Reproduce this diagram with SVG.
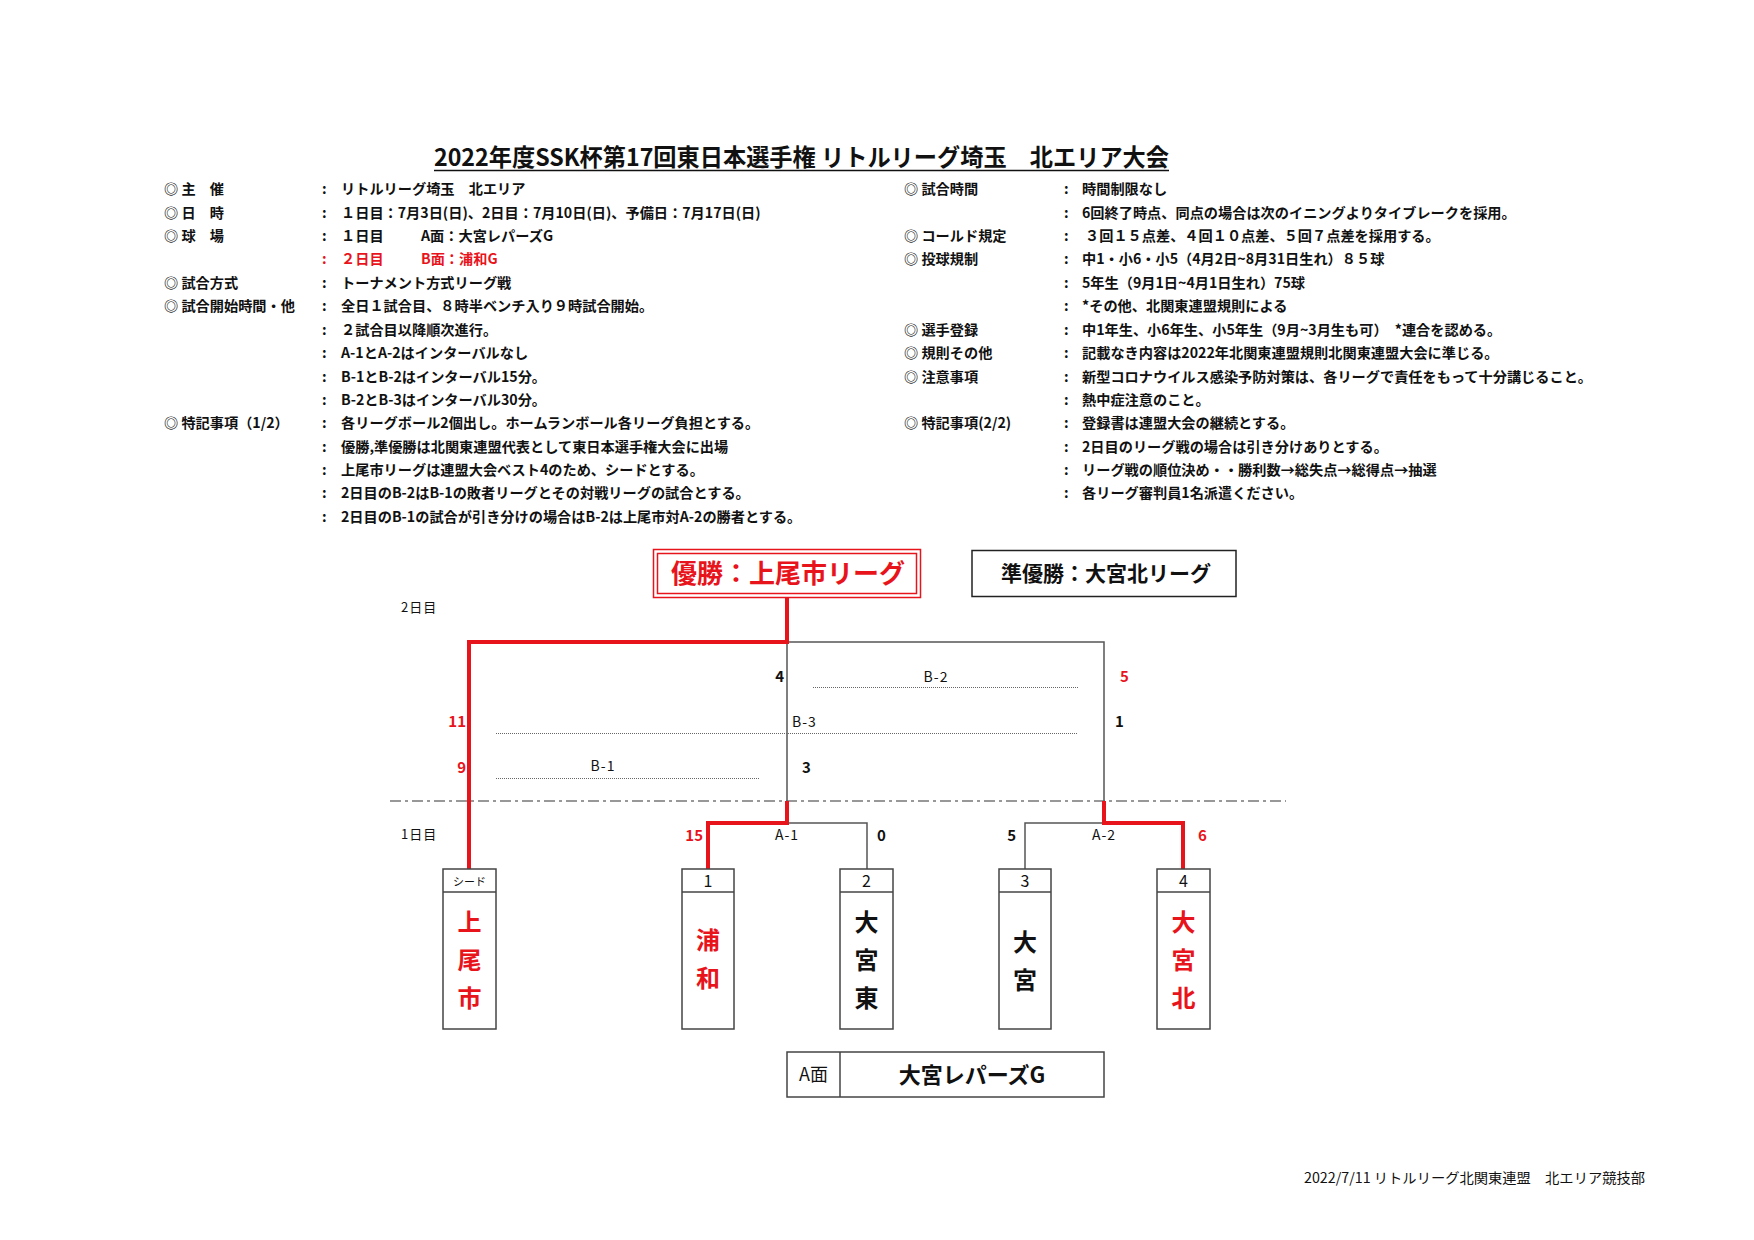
<svg xmlns="http://www.w3.org/2000/svg" width="1754" height="1240" viewBox="0 0 1754 1240">
<style>
text{font-family:"Noto Sans CJK JP","Noto Sans",sans-serif;fill:#111}
.b{font-size:14.2px;font-weight:700}
.red{fill:#e8141c}
.lab{font-size:14px;font-weight:400;letter-spacing:1px}
.sc{font-size:15px;font-weight:700}
.day{font-size:13px;font-weight:400;letter-spacing:1px}
.hd{font-size:16px;font-weight:400}
.tm{font-size:24px;font-weight:700;text-anchor:middle}
.ln{fill:none;stroke:#555;stroke-width:1.5}
.rl{fill:none;stroke:#e8141c;stroke-width:4}
.dot{fill:none;stroke:#666;stroke-width:1;stroke-dasharray:1 1}
.box{fill:#fff;stroke:#444;stroke-width:1.5}
</style>
<rect width="1754" height="1240" fill="#fff"/>
<g id="title">
<text x="434" y="166" font-size="24" font-weight="700" textLength="735" lengthAdjust="spacingAndGlyphs">2022年度SSK杯第17回東日本選手権 リトルリーグ埼玉　北エリア大会</text>
<line x1="434" y1="170.5" x2="1169" y2="170.5" stroke="#111" stroke-width="1.5"/>
</g>
<g id="info-left" class="b">
<text x="164" y="194">◎ 主　催</text><text x="322" y="194">:</text><text x="341" y="194">リトルリーグ埼玉　北エリア</text>
<text x="164" y="218">◎ 日　時</text><text x="322" y="218">:</text><text x="341" y="218">１日目：7月3日(日)、2日目：7月10日(日)、予備日：7月17日(日)</text>
<text x="164" y="241">◎ 球　場</text><text x="322" y="241">:</text><text x="341" y="241">１日目</text><text x="421" y="241">A面：大宮レパーズG</text>
<text x="322" y="264" class="red">:</text><text x="341" y="264" class="red">２日目</text><text x="421" y="264" class="red">B面：浦和G</text>
<text x="164" y="288">◎ 試合方式</text><text x="322" y="288">:</text><text x="341" y="288">トーナメント方式リーグ戦</text>
<text x="164" y="311">◎ 試合開始時間・他</text><text x="322" y="311">:</text><text x="341" y="311">全日１試合目、８時半ベンチ入り９時試合開始。</text>
<text x="322" y="335">:</text><text x="341" y="335">２試合目以降順次進行。</text>
<text x="322" y="358">:</text><text x="341" y="358">A-1とA-2はインターバルなし</text>
<text x="322" y="382">:</text><text x="341" y="382">B-1とB-2はインターバル15分。</text>
<text x="322" y="405">:</text><text x="341" y="405">B-2とB-3はインターバル30分。</text>
<text x="164" y="428">◎ 特記事項（1/2）</text><text x="322" y="428">:</text><text x="341" y="428">各リーグボール2個出し。ホームランボール各リーグ負担とする。</text>
<text x="322" y="452">:</text><text x="341" y="452">優勝,準優勝は北関東連盟代表として東日本選手権大会に出場</text>
<text x="322" y="475">:</text><text x="341" y="475">上尾市リーグは連盟大会ベスト4のため、シードとする。</text>
<text x="322" y="498">:</text><text x="341" y="498">2日目のB-2はB-1の敗者リーグとその対戦リーグの試合とする。</text>
<text x="322" y="522">:</text><text x="341" y="522">2日目のB-1の試合が引き分けの場合はB-2は上尾市対A-2の勝者とする。</text>
</g>
<g id="info-right" class="b">
<text x="904" y="194">◎ 試合時間</text><text x="1064" y="194">:</text><text x="1082" y="194">時間制限なし</text>
<text x="1064" y="218">:</text><text x="1082" y="218">6回終了時点、同点の場合は次のイニングよりタイブレークを採用。</text>
<text x="904" y="241">◎ コールド規定</text><text x="1064" y="241">:</text><text x="1085" y="241">３回１５点差、４回１０点差、５回７点差を採用する。</text>
<text x="904" y="264">◎ 投球規制</text><text x="1064" y="264">:</text><text x="1082" y="264">中1・小6・小5（4月2日~8月31日生れ）８５球</text>
<text x="1064" y="288">:</text><text x="1082" y="288">5年生（9月1日~4月1日生れ）75球</text>
<text x="1064" y="311">:</text><text x="1082" y="311">*その他、北関東連盟規則による</text>
<text x="904" y="335">◎ 選手登録</text><text x="1064" y="335">:</text><text x="1082" y="335">中1年生、小6年生、小5年生（9月~3月生も可）　*連合を認める。</text>
<text x="904" y="358">◎ 規則その他</text><text x="1064" y="358">:</text><text x="1082" y="358">記載なき内容は2022年北関東連盟規則北関東連盟大会に準じる。</text>
<text x="904" y="382">◎ 注意事項</text><text x="1064" y="382">:</text><text x="1082" y="382">新型コロナウイルス感染予防対策は、各リーグで責任をもって十分講じること。</text>
<text x="1064" y="405">:</text><text x="1082" y="405">熱中症注意のこと。</text>
<text x="904" y="428">◎ 特記事項(2/2)</text><text x="1064" y="428">:</text><text x="1082" y="428">登録書は連盟大会の継続とする。</text>
<text x="1064" y="452">:</text><text x="1082" y="452">2日目のリーグ戦の場合は引き分けありとする。</text>
<text x="1064" y="475">:</text><text x="1082" y="475">リーグ戦の順位決め・・勝利数→総失点→総得点→抽選</text>
<text x="1064" y="498">:</text><text x="1082" y="498">各リーグ審判員1名派遣ください。</text>
</g>
<g id="connectors">
<line x1="390" y1="801" x2="1286" y2="801" stroke="#333" stroke-width="1.2" stroke-dasharray="11 4 3 4"/>
<path class="ln" d="M787 642 H1104 V801 M787 642 V801 M787 823 H867 V869 M1104 823 H1025 V869"/>
<path class="dot" d="M813 687.5 H1078 M496 733.5 H1078 M496 778.5 H760"/>
<path class="rl" d="M787 598 V642 H469 V869"/>
<path class="rl" d="M787 801 V823 H708 V869"/>
<path class="rl" d="M1104 801 V823 H1183 V869"/>
</g>
<g id="bracket-labels">
<text x="401" y="612" class="day">2日目</text>
<text x="401" y="839" class="day">1日目</text>
<text x="936" y="682" class="lab" text-anchor="middle">B-2</text>
<text x="792" y="727" class="lab">B-3</text>
<text x="603" y="771" class="lab" text-anchor="middle">B-1</text>
<text x="787" y="840" class="lab" text-anchor="middle">A-1</text>
<text x="1104" y="840" class="lab" text-anchor="middle">A-2</text>
<text x="784" y="682" class="sc" text-anchor="end">4</text>
<text x="1120" y="682" class="sc red">5</text>
<text x="466" y="727" class="sc red" text-anchor="end">11</text>
<text x="1115" y="727" class="sc">1</text>
<text x="466" y="773" class="sc red" text-anchor="end">9</text>
<text x="802" y="773" class="sc">3</text>
<text x="703" y="841" class="sc red" text-anchor="end">15</text>
<text x="877" y="841" class="sc">0</text>
<text x="1016" y="841" class="sc" text-anchor="end">5</text>
<text x="1198" y="841" class="sc red">6</text>
</g>
<g id="winner">
<rect x="653.5" y="549.5" width="267" height="48" fill="#fff" stroke="#e8141c" stroke-width="1.5"/>
<rect x="657.5" y="553.5" width="259" height="40" fill="none" stroke="#e8141c" stroke-width="1.5"/>
<text x="788" y="583" font-size="26" font-weight="700" text-anchor="middle" class="red">優勝：上尾市リーグ</text>
</g>
<g id="runner-up">
<rect x="972" y="550.5" width="264" height="46" fill="#fff" stroke="#222" stroke-width="1.5"/>
<text x="1106" y="581" font-size="21" font-weight="700" text-anchor="middle">準優勝：大宮北リーグ</text>
</g>
<g id="team-seed">
<rect class="box" x="443" y="869" width="53" height="160"/><line x1="443" y1="892" x2="496" y2="892" stroke="#444" stroke-width="1.5"/>
<text x="469.5" y="886" font-size="11" text-anchor="middle">シード</text>
<text class="tm red" x="469.5" y="931">上</text><text class="tm red" x="469.5" y="969">尾</text><text class="tm red" x="469.5" y="1007">市</text>
</g>
<g id="team-1">
<rect class="box" x="682" y="869" width="52" height="160"/><line x1="682" y1="892" x2="734" y2="892" stroke="#444" stroke-width="1.5"/>
<text class="hd" x="708" y="887" text-anchor="middle">1</text>
<text class="tm red" x="708" y="949">浦</text><text class="tm red" x="708" y="987">和</text>
</g>
<g id="team-2">
<rect class="box" x="840" y="869" width="53" height="160"/><line x1="840" y1="892" x2="893" y2="892" stroke="#444" stroke-width="1.5"/>
<text class="hd" x="866.5" y="887" text-anchor="middle">2</text>
<text class="tm" x="866.5" y="931">大</text><text class="tm" x="866.5" y="969">宮</text><text class="tm" x="866.5" y="1007">東</text>
</g>
<g id="team-3">
<rect class="box" x="999" y="869" width="52" height="160"/><line x1="999" y1="892" x2="1051" y2="892" stroke="#444" stroke-width="1.5"/>
<text class="hd" x="1025" y="887" text-anchor="middle">3</text>
<text class="tm" x="1025" y="951">大</text><text class="tm" x="1025" y="989">宮</text>
</g>
<g id="team-4">
<rect class="box" x="1157" y="869" width="53" height="160"/><line x1="1157" y1="892" x2="1210" y2="892" stroke="#444" stroke-width="1.5"/>
<text class="hd" x="1183.5" y="887" text-anchor="middle">4</text>
<text class="tm red" x="1183.5" y="931">大</text><text class="tm red" x="1183.5" y="969">宮</text><text class="tm red" x="1183.5" y="1007">北</text>
</g>
<g id="venue">
<rect class="box" x="787" y="1052" width="317" height="45"/><line x1="840" y1="1052" x2="840" y2="1097" stroke="#444" stroke-width="1.5"/>
<text x="813.5" y="1081" font-size="18" text-anchor="middle">A面</text>
<text x="972" y="1083" font-size="22" font-weight="700" text-anchor="middle">大宮レパーズG</text>
</g>
<g id="footer">
<text x="1304" y="1183" font-size="14" textLength="341" lengthAdjust="spacingAndGlyphs">2022/7/11 リトルリーグ北関東連盟　北エリア競技部</text>
</g>
</svg>
